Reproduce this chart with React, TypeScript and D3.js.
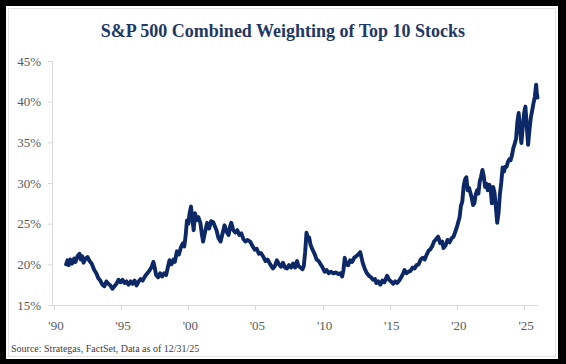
import * as d3 from 'd3';

const title = 'S&P 500 Combined Weighting of Top 10 Stocks';
const source = 'Source: Strategas, FactSet, Data as of 12/31/25';

const yTicks = [15, 20, 25, 30, 35, 40, 45];
const xTicks = [1990, 1995, 2000, 2005, 2010, 2015, 2020, 2025];
const xTickLabels = ["'90", "'95", "'00", "'05", "'10", "'15", "'20", "'25"];

// decimal year / combined weight of top 10 (%)
const years = [
  1990.9, 1991.0, 1991.1, 1991.2, 1991.35, 1991.5, 1991.6, 1991.75, 1991.9, 1992.0,
  1992.1, 1992.2, 1992.35, 1992.5, 1992.65, 1992.8, 1993.0, 1993.15, 1993.3, 1993.45,
  1993.6, 1993.75, 1993.9, 1994.05, 1994.2, 1994.35, 1994.5, 1994.65, 1994.8, 1994.95,
  1995.1, 1995.25, 1995.4, 1995.55, 1995.7, 1995.85, 1996.0, 1996.15, 1996.3, 1996.45,
  1996.6, 1996.8, 1996.95, 1997.1, 1997.25, 1997.4, 1997.5, 1997.6, 1997.75, 1997.9,
  1998.05, 1998.2, 1998.35, 1998.5, 1998.6, 1998.75, 1998.9, 1999.0, 1999.15, 1999.3,
  1999.45, 1999.6, 1999.7, 1999.8, 1999.9, 2000.0, 2000.1, 2000.2, 2000.3, 2000.4,
  2000.5, 2000.6, 2000.75, 2000.9, 2001.0, 2001.1, 2001.25, 2001.4, 2001.55, 2001.7,
  2001.85, 2002.0, 2002.1, 2002.25, 2002.4, 2002.55, 2002.7, 2002.85, 2003.0, 2003.1,
  2003.2, 2003.35, 2003.5, 2003.65, 2003.8, 2003.95, 2004.1, 2004.25, 2004.4, 2004.6,
  2004.8, 2004.95, 2005.1, 2005.25, 2005.4, 2005.6, 2005.75, 2005.9, 2006.1, 2006.3,
  2006.45, 2006.6, 2006.75, 2006.9, 2007.05, 2007.2, 2007.35, 2007.5, 2007.65, 2007.8,
  2007.95, 2008.1, 2008.2, 2008.35, 2008.5, 2008.6, 2008.7, 2008.8, 2008.9, 2009.0,
  2009.1, 2009.25, 2009.4, 2009.55, 2009.7, 2009.85, 2010.0, 2010.15, 2010.3, 2010.45,
  2010.6, 2010.8, 2011.0, 2011.15, 2011.3, 2011.45, 2011.55, 2011.65, 2011.75, 2011.9,
  2012.05, 2012.2, 2012.35, 2012.5, 2012.65, 2012.8, 2012.9, 2013.0, 2013.15, 2013.3,
  2013.45, 2013.6, 2013.75, 2013.9, 2014.0, 2014.15, 2014.3, 2014.45, 2014.6, 2014.8,
  2014.95, 2015.1, 2015.25, 2015.4, 2015.55, 2015.7, 2015.85, 2016.0, 2016.1, 2016.25,
  2016.4, 2016.55, 2016.7, 2016.85, 2017.0, 2017.15, 2017.3, 2017.45, 2017.6, 2017.75,
  2017.9, 2018.0, 2018.15, 2018.3, 2018.45, 2018.6, 2018.75, 2018.9, 2019.0, 2019.15,
  2019.3, 2019.45, 2019.6, 2019.75, 2019.9, 2020.0, 2020.1, 2020.2, 2020.3, 2020.4,
  2020.5, 2020.6, 2020.7, 2020.8, 2020.9, 2021.0, 2021.1, 2021.2, 2021.3, 2021.4,
  2021.5, 2021.6, 2021.7, 2021.8, 2021.9, 2022.0, 2022.1, 2022.2, 2022.3, 2022.4,
  2022.5, 2022.6, 2022.7, 2022.8, 2022.9, 2023.0, 2023.1, 2023.2, 2023.3, 2023.4,
  2023.5, 2023.6, 2023.7, 2023.8, 2023.9, 2024.0, 2024.1, 2024.2, 2024.3, 2024.4,
  2024.5, 2024.6, 2024.7, 2024.8, 2024.9, 2025.0, 2025.1, 2025.2, 2025.3, 2025.4,
  2025.5, 2025.6, 2025.7, 2025.8, 2025.9, 2025.95, 2026.0,
];
const weights = [
  20.0, 20.5, 19.9, 20.6, 20.1, 20.7, 20.3, 21.0, 21.3, 20.6,
  21.0, 20.2, 20.7, 20.9, 20.4, 20.1, 19.3, 18.9, 18.3, 18.0,
  17.5, 17.3, 17.9, 17.6, 17.4, 17.0, 17.3, 17.6, 18.1, 17.8,
  18.1, 17.7, 17.9, 17.5, 17.9, 17.6, 18.0, 17.4, 17.9, 18.2,
  18.0, 18.6, 18.9, 19.2, 19.6, 20.3, 19.6, 18.7, 18.4, 18.9,
  18.5, 18.9, 18.7, 19.8, 20.5, 20.0, 20.6, 20.3, 21.6, 21.2,
  22.1, 22.6, 22.2, 23.5, 25.4, 25.0, 26.3, 27.1, 25.5, 24.2,
  26.3, 25.4, 25.8, 25.1, 23.8, 22.8, 24.0, 25.1, 24.4, 25.3,
  25.2, 24.6, 24.2, 23.2, 22.8, 23.8, 24.8, 24.0, 23.6, 24.6,
  25.1, 24.2, 23.9, 24.2, 23.6, 23.8, 23.1, 22.8, 23.0, 22.8,
  22.2, 21.8, 21.9, 21.3, 21.4, 20.9, 20.4, 20.6, 20.0, 19.5,
  19.8, 20.5, 20.0, 19.7, 20.2, 19.6, 19.5, 19.9, 19.6, 20.1,
  19.6, 20.4, 19.8, 19.6, 19.4, 19.8, 21.5, 23.9, 23.2, 23.3,
  22.4, 21.8, 21.3, 20.6, 20.4, 20.0, 19.6, 19.1, 19.3, 18.9,
  19.1, 18.9, 19.0, 18.8, 18.9, 18.5, 19.3, 20.8, 20.0, 19.9,
  20.5, 20.3, 20.8, 21.0, 21.2, 21.5, 20.8, 20.1, 19.4, 18.9,
  18.6, 18.4, 18.1, 18.2, 17.7, 17.9, 17.5, 18.0, 17.8, 18.6,
  18.1, 17.9, 17.6, 17.9, 17.7, 18.0, 18.4, 18.9, 19.3, 18.9,
  19.1, 19.2, 19.6, 19.5, 19.9, 20.0, 20.6, 20.8, 20.6, 21.2,
  21.7, 21.8, 22.2, 22.8, 23.1, 23.4, 22.6, 22.8, 22.0, 22.3,
  23.0, 22.7, 23.2, 23.4, 24.1, 24.6, 25.2, 25.8, 27.2, 27.7,
  29.6, 30.4, 30.7, 29.1, 29.4, 28.8, 28.2, 27.3, 27.5, 28.6,
  29.1, 28.7, 30.2, 30.8, 31.6, 30.8, 29.5, 29.9, 29.1, 29.8,
  29.5, 27.5, 29.5, 28.8, 27.0, 25.1, 26.3, 28.6, 30.0, 31.9,
  31.4, 32.0, 32.0, 32.6, 32.9, 32.8, 33.4, 34.3, 34.8, 35.4,
  37.5, 38.6, 36.5, 34.9, 36.8, 38.6, 39.4, 37.0, 34.7, 36.5,
  38.0, 38.9, 39.8, 40.6, 42.1, 41.0, 40.5,
];

const W = 566;
const H = 364;

export default function App() {
  const x = d3.scaleLinear().domain([1990, 2026]).range([54, 537.5]);
  const y = d3.scaleLinear().domain([15, 45]).range([305, 61]);

  const points = years.map((yr, i) => [yr, weights[i]] as [number, number]);
  const line = d3
    .line<[number, number]>()
    .x((d) => x(d[0]))
    .y((d) => y(d[1]));

  const serif = "'Liberation Serif', 'DejaVu Serif', serif";

  return (
    <div style={{ position: 'fixed', left: 0, top: 0 }}>
      <svg width={W} height={H} style={{ display: 'block' }}>
        <rect x={0} y={0} width={W} height={H} fill="#000" />
        <rect x={6} y={6} width={552} height={353} fill="#fff" />
        <rect x={8.5} y={8.5} width={547} height={348} fill="none" stroke="#e2e2e2" />

        <text
          x={283}
          y={37}
          textAnchor="middle"
          fontFamily={serif}
          fontWeight="bold"
          fontSize={18}
          fill="#1f3864"
        >
          {title}
        </text>

        {/* y axis */}
        <line x1={52.5} x2={52.5} y1={y(45)} y2={y(15)} stroke="#d9d9d9" />
        {yTicks.map((t) => (
          <g key={t}>
            <line x1={48} x2={52.5} y1={y(t) + 0.5} y2={y(t) + 0.5} stroke="#d9d9d9" />
            <text
              x={41}
              y={y(t) + 4.5}
              textAnchor="end"
              fontFamily={serif}
              fontSize={13}
              fill="#595959"
            >
              {t}%
            </text>
          </g>
        ))}

        {/* x axis */}
        <line x1={52} x2={538} y1={305.5} y2={305.5} stroke="#d9d9d9" />
        {xTicks.map((t, i) => (
          <g key={t}>
            <line
              x1={Math.round(x(t)) + 0.5}
              x2={Math.round(x(t)) + 0.5}
              y1={305.5}
              y2={310}
              stroke="#d9d9d9"
            />
            <text
              x={x(t) + 2}
              y={330}
              textAnchor="middle"
              fontFamily={serif}
              fontSize={13}
              fill="#595959"
            >
              {xTickLabels[i]}
            </text>
          </g>
        ))}

        <path
          d={line(points) || ''}
          fill="none"
          stroke="#0c2866"
          strokeWidth={3.9}
          strokeLinejoin="round"
          strokeLinecap="round"
        />

        <text x={11} y={352} fontFamily={serif} fontSize={10} fill="#404040">
          {source}
        </text>
      </svg>
    </div>
  );
}
